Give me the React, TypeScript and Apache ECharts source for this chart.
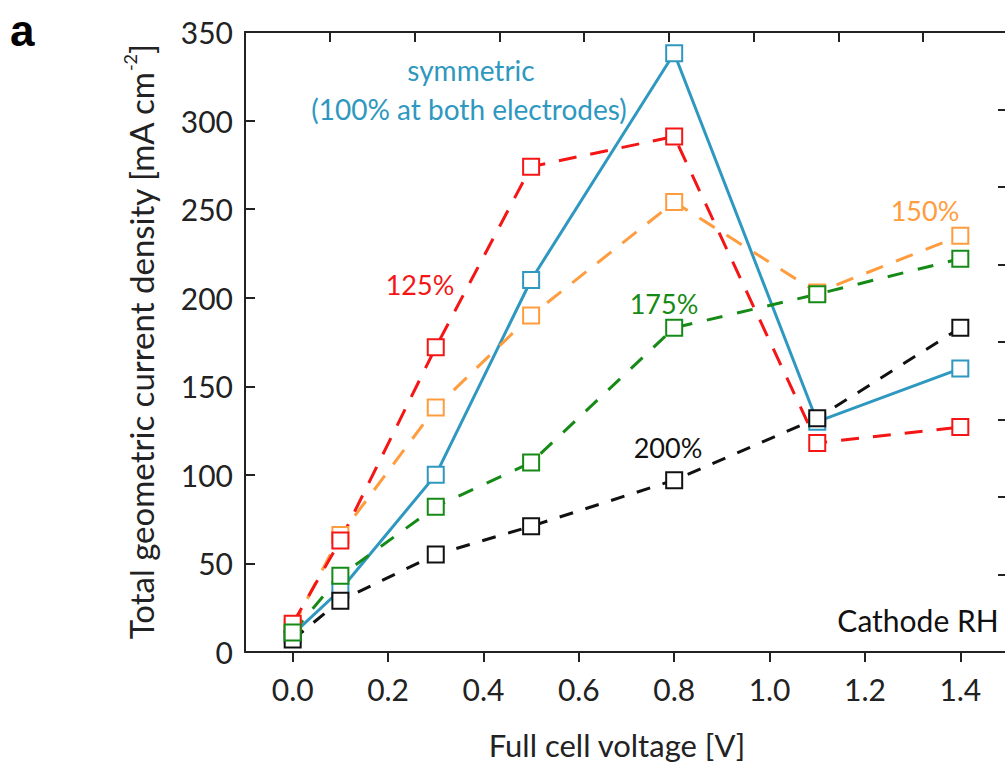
import React, { useEffect, useRef } from "react";
import * as echarts from "echarts";

const voltages = [0.0, 0.1, 0.3, 0.5, 0.8, 1.1, 1.4];
const xTickValues = [0.0, 0.2, 0.4, 0.6, 0.8, 1.0, 1.2, 1.4];
const symmetric = [10, 35, 100, 210, 338, 130, 160];
const rh125 = [16, 63, 172, 274, 291, 118, 127];
const rh150 = [14, 66, 138, 190, 254, 203, 235];
const rh175 = [11, 43, 82, 107, 183, 202, 222];
const rh200 = [7, 29, 55, 71, 97, 132, 183];

const FONT = "Lato, 'Open Sans', sans-serif";
const C_BLUE = "#2E98C0";
const C_RED = "#F51515";
const C_ORANGE = "#FF9C3E";
const C_GREEN = "#168A16";
const C_BLACK = "#111111";

function pairs(vals: number[]) {
  return voltages.map((v, i) => [v, vals[i]]);
}

function lineSeries(name: string, vals: number[], color: string, dash: number[] | "solid") {
  return {
    name,
    type: "line",
    xAxisIndex: 0,
    yAxisIndex: 0,
    data: pairs(vals),
    symbol: "rect",
    symbolSize: 16,
    showSymbol: true,
    lineStyle: { color, width: 3, type: dash },
    itemStyle: { color: "#ffffff", borderColor: color, borderWidth: 2 },
    emphasis: { disabled: true },
  };
}

export default function App() {
  const ref = useRef<HTMLDivElement>(null);
  useEffect(() => {
    if (!ref.current) return;
    const chart = echarts.init(ref.current, null, { renderer: "svg" });
    const axisLineStyle = { color: "#222", width: 2 };
    chart.setOption({
      animation: false,
      backgroundColor: "#ffffff",
      grid: { left: 245, top: 32, right: 7, bottom: 111, containLabel: false },
      xAxis: [
        {
          type: "value",
          min: -0.1,
          max: 1.5,
          position: "bottom",
          axisLine: { show: true, onZero: false, lineStyle: axisLineStyle },
          axisTick: { show: true, inside: false, length: 10, lineStyle: axisLineStyle, customValues: xTickValues },
          axisLabel: {
            show: true,
            customValues: xTickValues,
            formatter: (v: number) => v.toFixed(1),
            fontFamily: FONT,
            fontSize: 30,
            color: "#222",
            margin: 22,
          },
          splitLine: { show: false },
        },
        {
          type: "value",
          min: 0,
          max: 9,
          interval: 1,
          position: "top",
          axisLine: { show: true, onZero: false, lineStyle: axisLineStyle },
          axisTick: { show: true, inside: true, length: 10, lineStyle: axisLineStyle },
          axisLabel: { show: false },
          splitLine: { show: false },
        },
      ],
      yAxis: [
        {
          type: "value",
          min: 0,
          max: 350,
          interval: 50,
          position: "left",
          axisLine: { show: true, onZero: false, lineStyle: axisLineStyle },
          axisTick: { show: true, inside: true, length: 10, lineStyle: axisLineStyle },
          axisLabel: { fontFamily: FONT, fontSize: 30, color: "#222", margin: 12 },
          splitLine: { show: false },
        },
        {
          type: "value",
          min: 0,
          max: 8,
          interval: 1,
          position: "right",
          axisLine: { show: true, onZero: false, lineStyle: axisLineStyle },
          axisTick: { show: true, inside: true, length: 10, lineStyle: axisLineStyle },
          axisLabel: { show: false },
          splitLine: { show: false },
        },
      ],
      series: [
        lineSeries("symmetric", symmetric, C_BLUE, "solid"),
        lineSeries("150%", rh150, C_ORANGE, [18, 14]),
        lineSeries("125%", rh125, C_RED, [18, 14]),
        lineSeries("200%", rh200, C_BLACK, [14, 13]),
        lineSeries("175%", rh175, C_GREEN, [16, 15]),
      ],
      graphic: [
        {
          type: "text",
          left: 10,
          top: 8,
          style: { text: "a", font: "bold 44px 'Liberation Sans', Arial, sans-serif", fill: "#000" },
        },
        {
          type: "text",
          x: 617,
          y: 745,
          style: { text: "Full cell voltage [V]", fontFamily: FONT, fontSize: 31, fill: "#222", align: "center", verticalAlign: "middle" },
        },
        {
          type: "text",
          x: 141,
          y: 342,
          rotation: Math.PI / 2,
          style: {
            text: "Total geometric current density [mA cm{sup|-2}]",
            fontFamily: FONT,
            fontSize: 33,
            fill: "#222",
            align: "center",
            verticalAlign: "middle",
            rich: {
              sup: { fontFamily: FONT, fontSize: 18, fill: "#222", verticalAlign: "top", lineHeight: 40 },
            },
          },
        },
        {
          type: "text",
          x: 471,
          y: 70,
          style: { text: "symmetric", fontFamily: FONT, fontSize: 28, fill: C_BLUE, align: "center", verticalAlign: "middle" },
        },
        {
          type: "text",
          x: 469,
          y: 109,
          style: { text: "(100% at both electrodes)", fontFamily: FONT, fontSize: 28, fill: C_BLUE, align: "center", verticalAlign: "middle" },
        },
        {
          type: "text",
          x: 420,
          y: 284,
          style: { text: "125%", fontFamily: FONT, fontSize: 27, fill: C_RED, align: "center", verticalAlign: "middle" },
        },
        {
          type: "text",
          x: 925,
          y: 210,
          style: { text: "150%", fontFamily: FONT, fontSize: 27, fill: C_ORANGE, align: "center", verticalAlign: "middle" },
        },
        {
          type: "text",
          x: 664,
          y: 303,
          style: { text: "175%", fontFamily: FONT, fontSize: 27, fill: C_GREEN, align: "center", verticalAlign: "middle" },
        },
        {
          type: "text",
          x: 668,
          y: 447,
          style: { text: "200%", fontFamily: FONT, fontSize: 27, fill: C_BLACK, align: "center", verticalAlign: "middle" },
        },
        {
          type: "text",
          x: 918,
          y: 620,
          style: { text: "Cathode RH", fontFamily: FONT, fontSize: 30, fill: C_BLACK, align: "center", verticalAlign: "middle" },
        },
      ],
    });
    return () => chart.dispose();
  }, []);
  return (
    <div
      ref={ref}
      style={{ position: "fixed", left: 0, top: 0, width: 1015, height: 763, background: "#fff" }}
    />
  );
}
